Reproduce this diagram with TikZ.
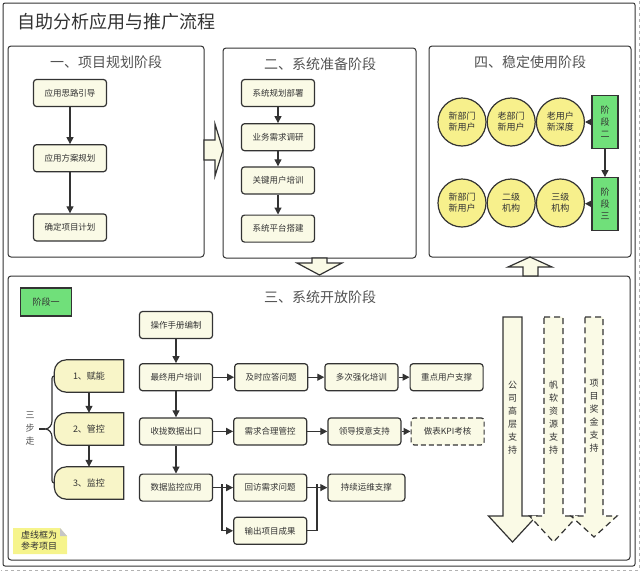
\documentclass[tikz,border=0pt]{standalone}
\usepackage{fontspec}
\setmainfont{Noto Sans CJK SC}
\usetikzlibrary{arrows.meta, positioning, shapes.geometric, backgrounds}

\definecolor{ink}{RGB}{51,51,51}
\definecolor{cream}{RGB}{250,250,230}
\definecolor{pale}{RGB}{248,245,200}
\definecolor{sun}{RGB}{247,240,140}
\definecolor{leaf}{RGB}{112,224,122}
\definecolor{memo}{RGB}{246,244,140}

\begin{document}
\begin{tikzpicture}[
x=1pt, y=-1pt,
panel/.style={rectangle, rounded corners=3pt, draw=ink, line width=1pt, inner sep=0pt},
heading/.style={text=ink!85, font=\fontsize{14}{16}\selectfont},
box/.style={rectangle, rounded corners=3pt, draw=ink, line width=1.2pt, fill=cream, minimum width=73pt, minimum height=27pt, inner sep=0pt, text=ink, font=\fontsize{8.5}{10}\selectfont},
refbox/.style={box, dash pattern=on 5pt off 3pt},
ball/.style={circle, draw=ink, line width=1.2pt, fill=sun, minimum size=48pt, inner sep=0pt, align=center, text=ink, font=\fontsize{9}{11}\selectfont},
stagebox/.style={rectangle, draw=ink, line width=1.2pt, fill=leaf, inner sep=0pt, align=center, text=ink, font=\fontsize{9}{12}\selectfont},
stepnode/.style={minimum width=69pt, minimum height=32pt, inner sep=0pt, text=ink, font=\fontsize{9}{11}\selectfont},
stepshape/.style={fill=pale, draw=ink, line width=1.2pt},
vtext/.style={align=center, inner sep=0pt, text=ink, font=\fontsize{9}{13}\selectfont},
line/.style={-{Triangle[length=7pt, width=7pt]}, draw=ink, line width=1.2pt},
bigarrow/.style={draw=ink, line width=1.2pt, fill=cream, line join=miter}
]
\useasboundingbox (0,0) rectangle (640,571);

% frame and title
\draw[ink, line width=1pt, rounded corners=2pt] (3,3) rectangle (635,566);
\draw[gray!60, dashed] (639,1) -- (639,570) -- (1,570);
\node[anchor=west, inner sep=0pt, text=ink, font=\fontsize{18}{20}\selectfont] (title) at (17,22) {自助分析应用与推广流程};

% panels
\node[panel, minimum width=196pt, minimum height=211pt] (plan) at (106,151.5) {};
\node[panel, minimum width=193pt, minimum height=210pt] (prep) at (319.5,153) {};
\node[panel, minimum width=202pt, minimum height=211pt] (stable) at (530,151.5) {};
\node[panel, minimum width=622pt, minimum height=284pt] (open) at (319,418) {};

\node[heading] (planhead) at (106,62) {一、项目规划阶段};
\node[heading] (prephead) at (320,64) {二、系统准备阶段};
\node[heading] (stablehead) at (530,62) {四、稳定使用阶段};
\node[heading] (openhead) at (320,297) {三、系统开放阶段};

% stage one: planning
\node[box] (idea) at (70,93) {应用思路引导};
\node[box, below=37pt of idea] (scheme) {应用方案规划};
\node[box, below=41pt of scheme] (schedule) {确定项目计划};

\draw[line] (idea) -- (scheme);
\draw[line] (scheme) -- (schedule);

% stage two: preparation
\node[box] (deploy) at (278,93) {系统规划部署};
\node[box, below=16pt of deploy] (survey) {业务需求调研};
\node[box, below=15pt of survey] (keytrain) {关键用户培训};
\node[box, below=20pt of keytrain] (build) {系统平台搭建};

\draw[line] (deploy) -- (survey);
\draw[line] (survey) -- (keytrain);
\draw[line] (keytrain) -- (build);

% stage four: stable use
\node[ball] (n1) at (462,122) {新部门\\新用户};
\node[ball, right=0pt of n1] (n2) {老部门\\新用户};
\node[ball, right=0pt of n2] (n3) {老用户\\新深度};
\node[ball] (m1) at (462,203) {新部门\\新用户};
\node[ball, right=0pt of m1] (m2) {二级\\机构};
\node[ball, right=0pt of m2] (m3) {三级\\机构};

\node[stagebox, minimum width=26pt, minimum height=53pt] (stage2) at (605,122) {阶\\段\\二};
\node[stagebox, minimum width=26pt, minimum height=53pt, below=28pt of stage2] (stage3) {阶\\段\\三};

\draw[line] (stage2) -- (n3);
\draw[line] (stage3) -- (m3);
\draw[line] (stage2) -- (stage3);

% stage three: opening
\node[stagebox, minimum width=51pt, minimum height=28pt] (stage1) at (46,302) {阶段一};

\node[box] (manual) at (176,325) {操作手册编制};
\node[box, below=24pt of manual] (final) {最终用户培训};
\node[box, below=26pt of final] (gather) {收拢数据出口};
\node[box, below=28pt of gather] (monitor) {数据监控应用};

\node[box, right=21pt of final] (reply) {及时应答问题};
\node[box, right=16pt of reply] (retrain) {多次强化培训};
\node[box, right=11pt of retrain] (keyuser) {重点用户支撑};

\node[box, right=20pt of gather] (demand) {需求合理管控};
\node[box, right=20pt of demand] (leader) {领导授意支持};
\node[refbox, right=9pt of leader] (kpi) {做表KPI考核};

\node[box, right=20pt of monitor] (revisit) {回访需求问题};
\node[box, right=20pt of revisit, minimum width=77pt] (ops) {持续运维支撑};
\node[box, below=15pt of revisit] (output) {输出项目成果};

\coordinate (fork) at (222,484);
\coordinate (join) at (317,484);

\draw[line] (manual) -- (final);
\draw[line] (final) -- (gather);
\draw[line] (gather) -- (monitor);
\draw[line] (final) -- (reply);
\draw[line] (reply) -- (retrain);
\draw[line] (retrain) -- (keyuser);
\draw[line] (gather) -- (demand);
\draw[line] (demand) -- (leader);
\draw[line] (leader) -- (kpi);
\draw[line] (monitor) -- (revisit);
\draw[line] (fork) |- (output);
\draw[line] (revisit) -- (ops);
\draw[ink, line width=1.2pt] (output) -| (join);

% three steps
\node[stepnode] (step1) at (89,376) {1、赋能};
\node[stepnode] (step2) at (89,429) {2、管控};
\node[stepnode] (step3) at (89,483) {3、监控};
\node[align=center, inner sep=0pt, text=ink!85, font=\fontsize{9}{13}\selectfont] (three) at (30,429) {三\\步\\走};

\begin{scope}[on background layer]
\foreach \s in {step1,step2,step3}
  \draw[stepshape] (\s.north) -- (\s.north east) -- (\s.south east) [rounded corners=12pt] -- (\s.south west) -- (\s.north west) -- cycle;
\end{scope}

\draw[line] (step1) -- (step2);
\draw[line] (step2) -- (step3);
\draw[ink, line width=1.2pt] (step1.west) to[out=180, in=90] (52,384) -- (52,421) to[out=-90, in=0] (45,429) to[out=0, in=90] (52,437) -- (52,475) to[out=-90, in=180] (step3.west);
\draw[ink, line width=1.2pt] (39,429) -- (45,429);

% block arrows between stages
\draw[bigarrow] (204,140) -- (215,140) -- (215,124) -- (223,150) -- (215,176) -- (215,160) -- (204,160) -- cycle;
\draw[bigarrow] (312,258) -- (327,258) -- (327,263) -- (342,263) -- (319.5,275) -- (297,263) -- (312,263) -- cycle;
\draw[bigarrow] (523,276) -- (538,276) -- (538,267) -- (552,267) -- (530,257) -- (508,267) -- (523,267) -- cycle;

% support arrows
\draw[bigarrow] (503,317) -- (522,317) -- (522,516) -- (536.5,516) -- (512.5,542) -- (488.5,516) -- (503,516) -- cycle;
\draw[bigarrow, dash pattern=on 6pt off 4pt] (544,317) -- (563,317) -- (563,516) -- (577.5,516) -- (553.5,542) -- (529.5,516) -- (544,516) -- cycle;
\draw[bigarrow, dash pattern=on 6pt off 4pt] (585,317) -- (603,317) -- (603,516) -- (617,516) -- (594,537) -- (571,516) -- (585,516) -- cycle;
\node[vtext] (boss) at (512.5,418) {公\\司\\高\\层\\支\\持};
\node[vtext] (vendor) at (553.5,418) {帆\\软\\资\\源\\支\\持};
\node[vtext] (bonus) at (594,416) {项\\目\\奖\\金\\支\\持};

% note
\fill[memo] (13,528) -- (60,528) -- (67,536) -- (67,554) -- (13,554) -- cycle;
\fill[gray!45] (60,528) -- (60,536) -- (67,536) -- cycle;
\node[align=left, inner sep=0pt, text=ink, font=\fontsize{9}{11}\selectfont] (memo) at (39,541) {虚线框为\\参考项目};
\end{tikzpicture}
\end{document}
